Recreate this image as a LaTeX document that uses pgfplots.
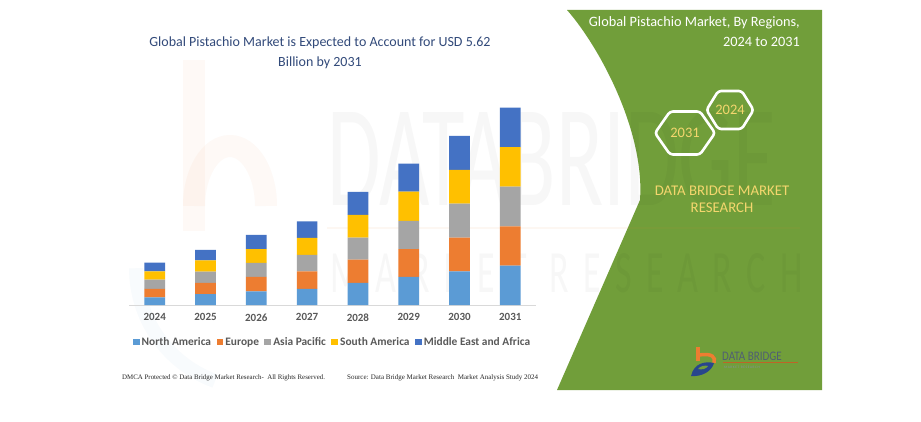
\documentclass[border=0pt]{standalone}
\usepackage{pgfplots}
\usepackage{pgfplotstable}
\pgfplotsset{compat=1.18}
\usepackage{fontspec}
\setmainfont{Carlito}
\newfontfamily\serif{Liberation Serif}

\definecolor{cNA}{HTML}{5B9BD5}
\definecolor{cEU}{HTML}{ED7D31}
\definecolor{cAP}{HTML}{A5A5A5}
\definecolor{cSA}{HTML}{FFC000}
\definecolor{cME}{HTML}{4472C4}
\definecolor{dbgreen}{RGB}{113,158,58}
\definecolor{titleblue}{RGB}{50,74,122}
\definecolor{lab}{RGB}{89,89,89}
\definecolor{gold}{RGB}{244,214,110}
\definecolor{logoblue}{RGB}{40,70,140}
\definecolor{logotxt}{RGB}{80,95,115}

% pistachio market by region, USD billion
\pgfplotstableread{
x   na    eu    ap    sa    me
0   0.22  0.24  0.26  0.24  0.25
1   0.31  0.32  0.32  0.32  0.30
2   0.39  0.41  0.40  0.39  0.41
3   0.46  0.50  0.47  0.48  0.47
4   0.63  0.66  0.63  0.65  0.65
5   0.80  0.79  0.81  0.83  0.80
6   0.96  0.96  0.97  0.96  0.97
7   1.12  1.12  1.13  1.13  1.12
}\regiondata

\begin{document}
\begin{tikzpicture}[x=1pt,y=1pt]
    % canvas, 921 x 421 like the source image
    \useasboundingbox (0,0) rectangle (921,421);
    \fill[white] (0,0) rectangle (921,421);
    \clip (0,0) rectangle (921,421);

    % green side panel
    \fill[dbgreen] (567,411) -- (822,411) -- (822,31) -- (557,31) -- (640,221)
        .. controls (645,291) and (598,376) .. (567,411) -- cycle;

    % faint watermark
    \fill[cEU, opacity=0.045] (183,361) rectangle (205,190);
    \draw[cEU, opacity=0.045, line width=22pt] (194,215) arc[start angle=180, end angle=0, x radius=36pt, y radius=60pt];
    \draw[cNA, opacity=0.04, line width=14pt] (215,40) arc[start angle=250, end angle=180, radius=120pt];
    \node[black, opacity=0.03, anchor=south west, inner sep=0pt, xscale=0.6,
          font=\fontsize{145}{145}\selectfont] at (327,214) {DATABRIDGE};
    \fill[cEU, opacity=0.06] (327,192) rectangle (800,194);
    \node[black, opacity=0.03, anchor=south west, inner sep=0pt, xscale=0.6,
          font=\fontsize{60}{60}\selectfont\addfontfeatures{LetterSpace=40}] at (330,128) {MARKET RESEARCH};

    % title
    \node[titleblue, align=center, font=\fontsize{14}{20}\selectfont] at (320,368.7)
        {Global Pistachio Market is Expected to Account for USD 5.62\\Billion by 2031};

    \begin{axis}[
        at={(129.3pt,116pt)},
        anchor=south west,
        scale only axis,
        width=406.4pt,
        height=210.6pt,
        xmin=-0.5, xmax=7.5,
        ymin=0, ymax=6,
        ybar stacked,
        bar width=20.7pt,
        axis y line=none,
        axis x line*=bottom,
        x axis line style={draw=black!15, line width=0.9pt, -},
        xtick=data,
        xticklabels={2024,2025,2026,2027,2028,2029,2030,2031},
        xtick style={draw=none},
        xticklabel style={font=\bfseries\fontsize{11}{13}\selectfont, text=lab, yshift=-5pt},
        legend columns=5,
        legend style={at={(0.5,-0.176)}, anchor=center, draw=none, fill=none,
            font=\bfseries\fontsize{11.4}{13}\selectfont, text=lab,
            /tikz/every even column/.append style={column sep=3.5pt}},
        legend image code/.code={\fill[#1] (0pt,-3.4pt) rectangle (6.8pt,3.4pt);},
    ]
    \addplot[fill=cNA, draw=none] table[x=x, y=na] {\regiondata};
    \addplot[fill=cEU, draw=none] table[x=x, y=eu] {\regiondata};
    \addplot[fill=cAP, draw=none] table[x=x, y=ap] {\regiondata};
    \addplot[fill=cSA, draw=none] table[x=x, y=sa] {\regiondata};
    \addplot[fill=cME, draw=none] table[x=x, y=me] {\regiondata};
    \legend{North America, Europe, Asia Pacific, South America, Middle East and Africa}
    \end{axis}

    % footer
    \node[anchor=west, inner sep=0pt, black!85, font=\serif\fontsize{6.9}{8}\selectfont] at (122,43)
        {DMCA Protected \textcopyright\ Data Bridge Market Research-\ \ All Rights Reserved.};
    \node[anchor=west, inner sep=0pt, black!85, font=\serif\fontsize{7}{8}\selectfont] at (347,43)
        {Source: Data Bridge Market Research\ \ Market Analysis Study 2024};

    % panel texts
    \node[anchor=east, inner sep=0pt, white, font=\fontsize{14.3}{16}\selectfont] at (800,398)
        {Global Pistachio Market, By Regions,};
    \node[anchor=east, inner sep=0pt, white, font=\fontsize{14.3}{16}\selectfont] at (800,379)
        {2024 to 2031};

    % hexagons
    \draw[white, line width=2.6pt, rounded corners=3pt]
        (706.5,311) -- (718.25,330) -- (741.75,330) -- (753.5,311) -- (741.75,292) -- (718.25,292) -- cycle;
    \draw[white, line width=2.6pt, rounded corners=3pt]
        (655,288) -- (670,309.5) -- (700,309.5) -- (715,288) -- (700,266.5) -- (670,266.5) -- cycle;
    \node[gold, inner sep=0pt, font=\fontsize{14.5}{16}\selectfont] at (730,311) {2024};
    \node[gold, inner sep=0pt, font=\fontsize{14.5}{16}\selectfont] at (685,288) {2031};

    \node[gold, align=center, font=\fontsize{14.8}{17}\selectfont] at (722,221.5)
        {DATA BRIDGE MARKET\\RESEARCH};

    % logo
    \fill[cEU] (695.5,74) rectangle (700,60);
    \draw[cEU, line width=3.5pt] (699,66) .. controls (712,68) and (716,64) .. (714,58);
    \fill[logoblue] (691,45) .. controls (694,58) and (705,60) .. (714,58)
        .. controls (712,50) and (702,44) .. (691,45) -- cycle;
    \fill[dbgreen] (698,52) .. controls (700,55) and (705,56) .. (708,55)
        .. controls (706,52) and (702,51) .. (698,52) -- cycle;
    \node[anchor=west, inner sep=0pt, logotxt, xscale=0.85, font=\fontsize{13}{14}\selectfont] at (722,65) {DATA BRIDGE};
    \fill[cEU!80!black] (723,58) rectangle (798,58.6);
    \node[anchor=west, inner sep=0pt, logotxt!70, font=\fontsize{3.5}{4}\selectfont] at (724,54)
        {M\,A\,R\,K\,E\,T\ \ R\,E\,S\,E\,A\,R\,C\,H};
\end{tikzpicture}
\end{document}
